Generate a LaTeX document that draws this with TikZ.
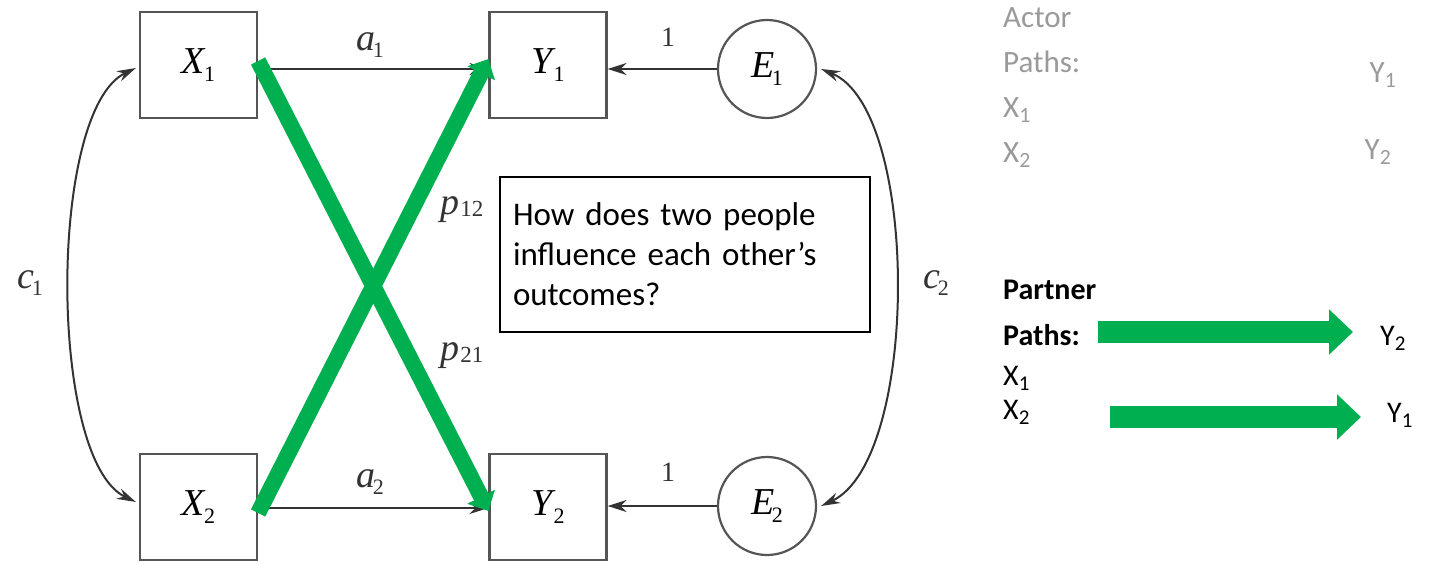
\documentclass[tikz,border=0pt]{standalone}
\usepackage{fontspec}
\setmainfont{Liberation Serif}
\newfontfamily\carl{Carlito}
\usetikzlibrary{arrows.meta}
\definecolor{pgreen}{HTML}{00B050}
\definecolor{lgray}{HTML}{9A9A9A}
\definecolor{dk}{HTML}{333333}
\definecolor{bx}{HTML}{555555}
\newcommand{\vlab}[2]{\fontsize{38}{38}\selectfont\textit{#1}\kern-0.06em\raisebox{-0.2em}{\fontsize{22}{22}\selectfont #2}}
\newcommand{\plab}[2]{\fontsize{38}{38}\selectfont\textit{#1}\kern0.02em\raisebox{-0.03em}{\fontsize{23}{23}\selectfont #2}}
\newcommand{\slab}[2]{#1\textsubscript{#2}}
\tikzset{
  varbox/.style={draw=bx, line width=2.2pt, minimum width=117pt, minimum height=106pt, inner sep=0pt},
  errc/.style={draw=bx, line width=2.2pt, circle, minimum size=98pt, inner sep=0pt},
  blk/.style={draw=dk, line width=2.4pt, -{Stealth[length=19pt,width=12pt]}},
  blk2/.style={draw=dk, line width=2pt, {Stealth[length=19pt,width=11pt]}-{Stealth[length=19pt,width=11pt]}},
  grn/.style={draw=pgreen, line width=16pt, -{Triangle[length=16pt,width=30pt]}},
  bigarr/.style={draw=pgreen, line width=22pt, -{Triangle[length=24pt,width=44pt]}},
  grayt/.style={text=lgray, font=\carl\fontsize{31}{45}\selectfont, inner sep=0pt},
  blkt/.style={text=black, font=\carl\fontsize{30}{36}\selectfont, inner sep=0pt},
  lab/.style={inner sep=0pt, text=dk}
}
\begin{document}
\begin{tikzpicture}[x=1pt,y=-1pt]
\useasboundingbox (0,0) rectangle (1432,563);
% boxes
\node[varbox] (X1) at (198.5,65) {\vlab{X}{1}};
\node[varbox] (X2) at (198.5,507) {\vlab{X}{2}};
\node[varbox] (Y1) at (548,65) {\vlab{Y}{1}};
\node[varbox] (Y2) at (548,507) {\vlab{Y}{2}};
\node[errc] (E1) at (767,69) {\vlab{E}{1}};
\node[errc] (E2) at (767,506) {\vlab{E}{2}};
% black paths
\draw[blk] (X1.east |- 0,69) coordinate (a1s) -- (Y1.west |- a1s);
\draw[blk] (X2.east |- 0,508) coordinate (a2s) -- (Y2.west |- a2s);
\draw[blk] (E1.west) -- (Y1.east |- E1.west);
\draw[blk] (E2.west) -- (Y2.east |- E2.west);
\draw[blk2] ([xshift=-3pt]X1.west |- 0,68) coordinate (c1s) .. controls (48,110) and (48,460) .. ([xshift=-3pt]X2.west |- 0,502);
\draw[blk2] ([xshift=4pt]E1.east) .. controls (920,110) and (920,460) .. ([xshift=4pt]E2.east);
% green partner paths
\draw[grn] ([yshift=4pt]X1.east) -- ([yshift=-4pt]Y2.west);
\draw[grn] ([yshift=-6pt]X2.east) -- ([yshift=6pt]Y1.west);
% labels
\node[lab] (la1) at (370,45) {\vlab{a}{1}};
\node[lab] (la2) at (370,482) {\vlab{a}{2}};
\node[lab] (lp12) at (462,210) {\plab{p}{12}};
\node[lab] (lp21) at (462,356) {\plab{p}{21}};
\node[lab] (l1a) at (668,37) {\fontsize{28}{28}\selectfont 1};
\node[lab] (l1b) at (668,472) {\fontsize{28}{28}\selectfont 1};
\node[lab] (lc1) at (30,283) {\vlab{c}{1}};
\node[lab] (lc2) at (936,283) {\vlab{c}{2}};
% question box
\node[draw=black, line width=1.8pt, minimum width=370pt, minimum height=155pt, text width=344pt, inner xsep=13pt, align=left, font=\carl\fontsize{33}{40}\selectfont] (q) at (685,254.5) {How does two people\\influence each other’s\\outcomes?};
% actor legend
\node[grayt, anchor=north west, align=left] (act) at (1003,7) {Actor\\Paths:\\\slab{X}{1}\\\slab{X}{2}};
\node[grayt] (ay1) at (1383,75) {\slab{Y}{1}};
\node[grayt] (ay2) at (1378,152) {\slab{Y}{2}};
% partner legend
\node[blkt, anchor=west] (pt) at (1003,290) {\bfseries Partner};
\node[blkt, anchor=west] (pp) at (1003,335) {\bfseries Paths:};
\node[blkt, anchor=west] (px1) at (1003,378) {\slab{X}{1}};
\node[blkt, anchor=west] (px2) at (1003,412) {\slab{X}{2}};
\node[blkt] (py2) at (1393,338) {\slab{Y}{2}};
\node[blkt] (py1) at (1400,415) {\slab{Y}{1}};
\coordinate (g1s) at (1098,332);
\coordinate (g1e) at (1353,332);
\coordinate (g2s) at (1110,417);
\coordinate (g2e) at (1361,417);
\draw[bigarr] (g1s) -- (g1e);
\draw[bigarr] (g2s) -- (g2e);
\end{tikzpicture}
\end{document}
